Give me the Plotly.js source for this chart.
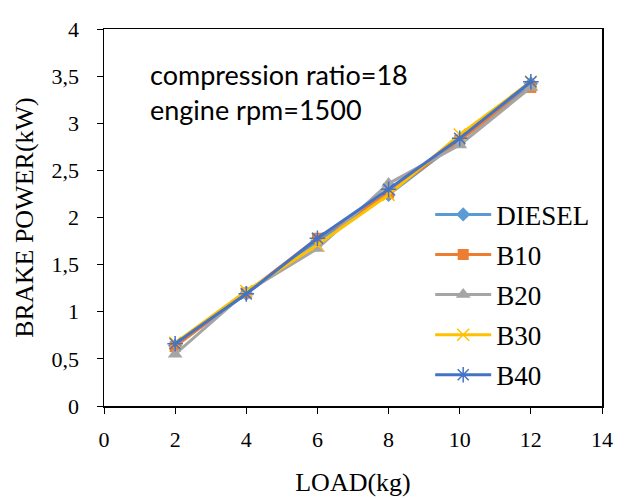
<!DOCTYPE html>
<html>
<head>
<meta charset="utf-8">
<script src="https://cdn.plot.ly/plotly-3.0.1.min.js"></script>
<style>html,body{margin:0;padding:0;background:#fff;}#chart{width:629px;height:498px;}</style>
</head>
<body>
<div id="chart"></div>
<script>
const loads = [2, 4, 6, 8, 10, 12];
const seriesNames = ["DIESEL", "B10", "B20", "B30", "B40"];
const diesel = [0.64, 1.19, 1.75, 2.24, 2.82, 3.42];
const b10 = [0.63, 1.20, 1.78, 2.26, 2.82, 3.38];
const b20 = [0.55, 1.21, 1.67, 2.36, 2.77, 3.38];
const b30 = [0.67, 1.22, 1.71, 2.24, 2.88, 3.44];
const b40 = [0.66, 1.19, 1.78, 2.30, 2.84, 3.44];
const xTicks = [0, 2, 4, 6, 8, 10, 12, 14];
const yTicks = [0, 0.5, 1, 1.5, 2, 2.5, 3, 3.5, 4];

const values = [diesel, b10, b20, b30, b40];
const colors = ["#5B9BD5", "#ED7D31", "#A5A5A5", "#FFC000", "#4472C4"];
const markers = [
  {symbol: "diamond", size: 11},
  {symbol: "square", size: 11},
  {symbol: "triangle-up", size: 13},
  {symbol: "x-thin-open", size: 12, line: {width: 1.5}},
  {symbol: "asterisk-open", size: 13, line: {width: 1.5}}
];

const traces = seriesNames.map((name, i) => {
  const m = Object.assign({color: colors[i]}, markers[i]);
  if (m.line) m.line = Object.assign({color: colors[i]}, m.line);
  return {
    x: loads, y: values[i], name: name, type: "scatter", mode: "lines+markers",
    line: {color: colors[i], width: 3},
    marker: m,
    legendgroup: "g" + i
  };
});

const serif = "Liberation Serif, Times New Roman, serif";
const layout = {
  width: 629, height: 498,
  margin: {l: 104, r: 27, t: 29, b: 92},
  paper_bgcolor: "#fff", plot_bgcolor: "#fff",
  separators: ", ",
  showlegend: true,
  legend: {
    x: 0.655, y: 0.572, xanchor: "left", yanchor: "top",
    font: {family: serif, size: 27, color: "#000"},
    bgcolor: "rgba(0,0,0,0)", tracegroupgap: 2, itemwidth: 56
  },
  xaxis: {
    range: [0, 14], tickvals: xTicks, ticktext: xTicks.map(String),
    showgrid: false, zeroline: false,
    showline: true, linecolor: "#000", linewidth: 1.5, mirror: true,
    ticks: "outside", ticklen: 6, tickcolor: "#000", tickwidth: 1,
    ticklabelstandoff: 7,
    tickfont: {family: serif, size: 22, color: "#000"},
    title: {text: "LOAD(kg)", font: {family: serif, size: 26, color: "#000"}, standoff: 22}
  },
  yaxis: {
    range: [0, 4], tickvals: yTicks,
    showgrid: false, zeroline: false,
    showline: true, linecolor: "#000", linewidth: 1.5, mirror: true,
    ticks: "outside", ticklen: 6, tickcolor: "#000", tickwidth: 1,
    ticklabelstandoff: 13,
    tickfont: {family: serif, size: 22, color: "#000"},
    title: {text: "BRAKE POWER(kW)", font: {family: serif, size: 26, color: "#000"}, standoff: 10}
  },
  xaxis2: {
    overlaying: "x", anchor: "y", side: "bottom", range: [0, 14], tickvals: xTicks,
    showticklabels: false, showgrid: false, zeroline: false, showline: false,
    ticks: "inside", ticklen: 6, tickcolor: "#000", tickwidth: 1
  },
  yaxis2: {
    overlaying: "y", anchor: "x", side: "left", range: [0, 4], tickvals: yTicks,
    showticklabels: false, showgrid: false, zeroline: false, showline: false,
    ticks: "inside", ticklen: 6, tickcolor: "#000", tickwidth: 1
  },
  annotations: [{
    xref: "paper", yref: "paper", x: 0.088, y: 0.928, xanchor: "left", yanchor: "top",
    align: "left", showarrow: false,
    text: "compression ratio=18<br>engine rpm=1500",
    font: {family: "Lato, Carlito, Calibri, sans-serif", size: 27, color: "#000"}
  }]
};

Plotly.newPlot("chart", traces, layout, {displayModeBar: false, staticPlot: true});
</script>
</body>
</html>
